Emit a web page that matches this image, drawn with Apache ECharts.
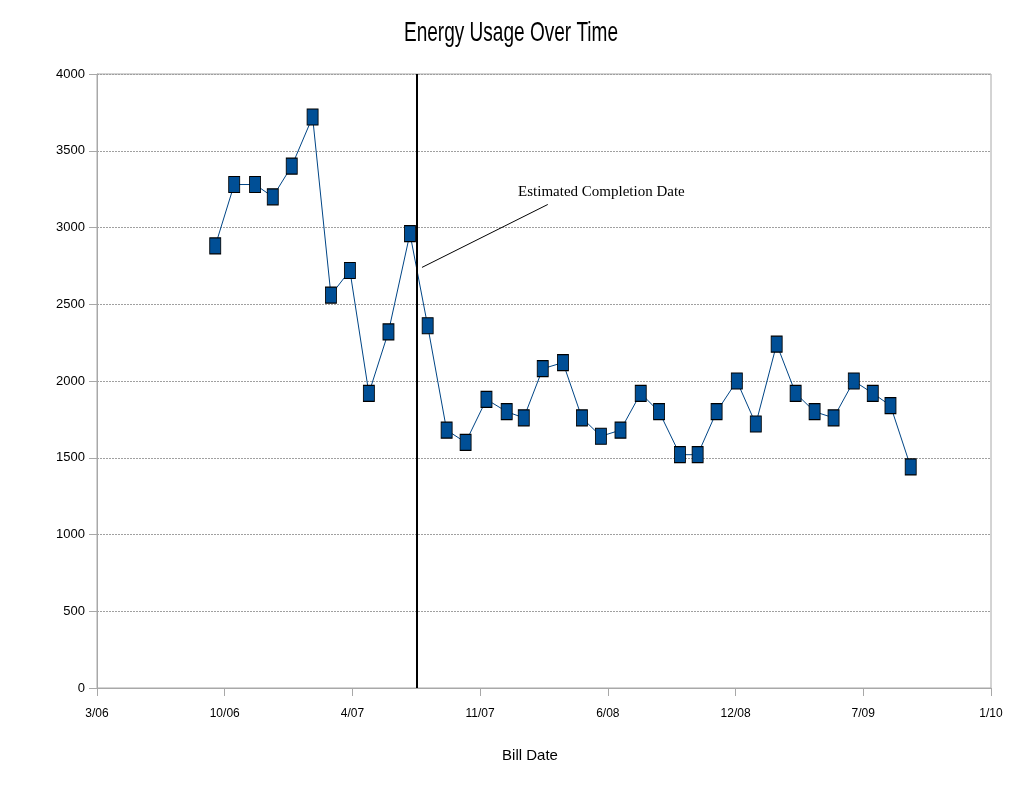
<!DOCTYPE html>
<html>
<head>
<meta charset="utf-8">
<script src="https://cdn.jsdelivr.net/npm/echarts@6/dist/echarts.min.js"></script>
<style>
html,body{margin:0;padding:0;background:#fff;}
#chart{width:1024px;height:786px;}
</style>
</head>
<body>
<div id="chart"></div>
<script>
// ---- data ----
const chartTitle = 'Energy Usage Over Time';
const billDates = [
  '2006-09-20','2006-10-20','2006-11-22','2006-12-20','2007-01-19','2007-02-21',
  '2007-03-22','2007-04-21','2007-05-21','2007-06-21','2007-07-25','2007-08-22',
  '2007-09-21','2007-10-21','2007-11-23','2007-12-25','2008-01-21','2008-02-20',
  '2008-03-23','2008-04-22','2008-05-22','2008-06-22','2008-07-24','2008-08-22',
  '2008-09-24','2008-10-22','2008-11-21','2008-12-23','2009-01-22','2009-02-24',
  '2009-03-26','2009-04-25','2009-05-25','2009-06-26','2009-07-26','2009-08-23',
  '2009-09-24'
];
const usage = [
  2880,3280,3280,3200,3400,3720,
  2560,2720,1920,2320,2960,2360,
  1680,1600,1880,1800,1760,2080,
  2120,1760,1640,1680,1920,1800,
  1520,1520,1800,2000,1720,2240,
  1920,1800,1760,2000,1920,1840,
  1440
];
const xTickLabels = ['3/06','10/06','4/07','11/07','6/08','12/08','7/09','1/10'];
const yTicks = [0,500,1000,1500,2000,2500,3000,3500,4000];
const axisStart = '2006-03-17';
const tickDays = 202;
const completionDate = '2007-08-04';
const annotationText = 'Estimated Completion Date';
const annotationAnchor = ['2008-01-12', 3230];
const leaderFrom = ['2007-08-13', 2740];
const leaderTo = ['2008-02-28', 3150];

// ---- helpers ----
function dayOffset(s){
  const p = s.split('-').map(Number);
  const b = axisStart.split('-').map(Number);
  return (Date.UTC(p[0],p[1]-1,p[2]) - Date.UTC(b[0],b[1]-1,b[2]))/86400000;
}
const seriesData = billDates.map((d,i)=>[dayOffset(d), usage[i]]);
const sans = "'Liberation Sans','Arial',sans-serif";

const chart = echarts.init(document.getElementById('chart'), null, {renderer:'canvas'});
chart.setOption({
  animation:false,
  backgroundColor:'#fff',
  graphic:[{
    type:'text',
    x:511, y:33,
    scaleX:0.68, scaleY:1,
    style:{
      text:chartTitle,
      font:"normal 28px 'Liberation Sans', Arial, sans-serif",
      fill:'#000',
      textAlign:'center',
      textVerticalAlign:'middle'
    }
  }],
  grid:{left:97, right:33, top:74, bottom:98, show:true, borderColor:'#a8a8a8', borderWidth:1},
  xAxis:{
    type:'value',
    min:0, max:tickDays*(xTickLabels.length-1), interval:tickDays,
    name:'Bill Date', nameLocation:'middle', nameGap:60,
    nameTextStyle:{fontFamily:sans, fontSize:15, color:'#000', padding:[0,28,0,0]},
    axisLine:{show:true, lineStyle:{color:'#a8a8a8', width:1}},
    axisTick:{show:true, length:8, lineStyle:{color:'#a8a8a8'}},
    splitLine:{show:false},
    axisLabel:{
      margin:20, fontFamily:sans, fontSize:12, color:'#000',
      formatter:v=>xTickLabels[Math.round(v/tickDays)] || ''
    }
  },
  yAxis:{
    type:'value',
    min:yTicks[0], max:yTicks[yTicks.length-1], interval:yTicks[1]-yTicks[0],
    axisLine:{show:true, lineStyle:{color:'#a8a8a8', width:1}},
    axisTick:{show:true, length:8, lineStyle:{color:'#a8a8a8'}},
    splitLine:{show:true, lineStyle:{color:'#a0a0a0', type:[2,1], width:1}},
    axisLabel:{margin:12, fontFamily:sans, fontSize:13, color:'#000', formatter:v=>String(v)}
  },
  series:[{
    type:'line',
    data:seriesData,
    symbol:'rect',
    symbolSize:[11,16],
    showAllSymbol:true,
    lineStyle:{color:'#004586', width:1},
    itemStyle:{color:'#004f96', borderColor:'#000', borderWidth:1},
    z:3,
    markLine:{
      silent:true,
      symbol:['none','none'],
      label:{show:false},
      animation:false,
      data:[
        {xAxis:dayOffset(completionDate), lineStyle:{color:'#000', width:2, type:'solid'}},
        [
          {coord:[dayOffset(leaderFrom[0]), leaderFrom[1]], lineStyle:{color:'#000', width:1, type:'solid'}},
          {coord:[dayOffset(leaderTo[0]), leaderTo[1]]}
        ]
      ]
    },
    markPoint:{
      silent:true,
      symbol:'circle', symbolSize:0,
      data:[{
        coord:[dayOffset(annotationAnchor[0]), annotationAnchor[1]],
        label:{
          show:true, position:'right', distance:0,
          formatter:annotationText,
          fontFamily:"'Liberation Serif','Times New Roman',serif",
          fontSize:15, color:'#000'
        }
      }]
    }
  }]
});
</script>
</body>
</html>
